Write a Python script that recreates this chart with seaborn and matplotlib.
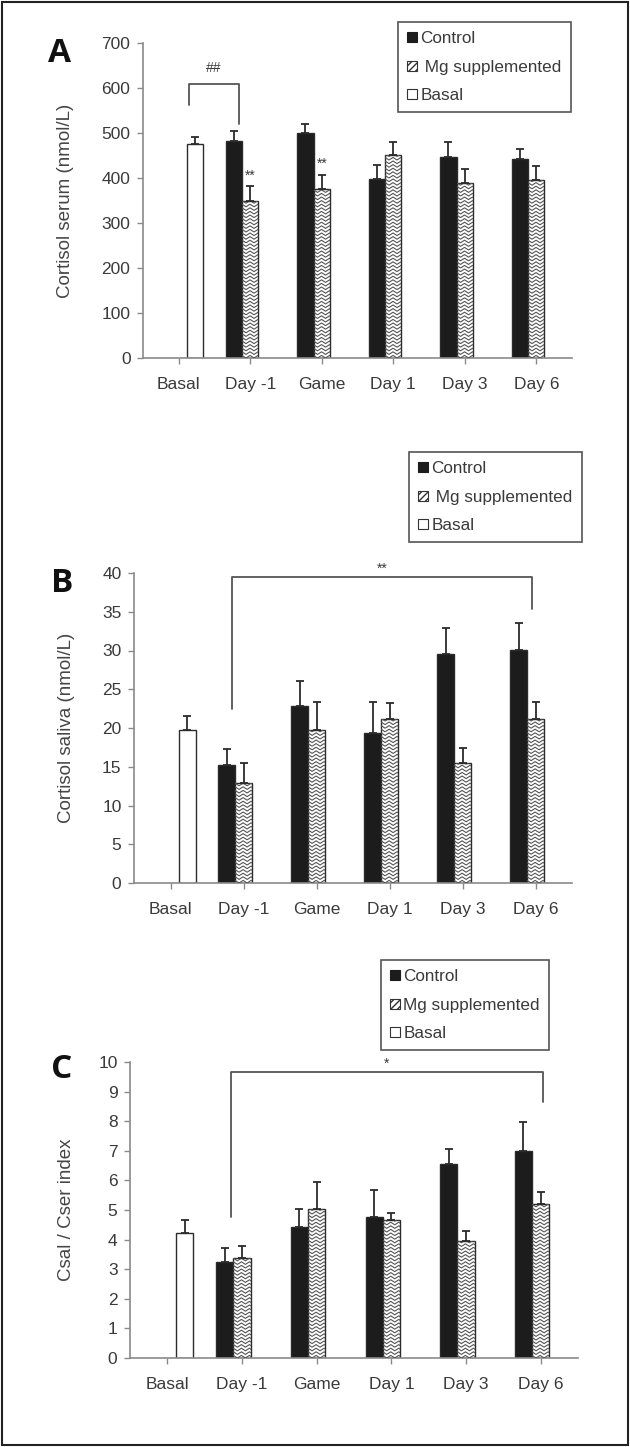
import numpy as np
import pandas as pd
import seaborn as sns
import matplotlib.pyplot as plt
from matplotlib.patches import Patch, Rectangle

nan = np.nan

categories = ['Basal', 'Day -1', 'Game', 'Day 1', 'Day 3', 'Day 6']
groups = ['Control', 'Mg supplemented', 'Basal']

# panel A - cortisol serum (nmol/L)
serum_control = [nan, 482, 500, 398, 446, 443]
serum_control_err = [nan, 22, 20, 30, 33, 21]
serum_mg = [nan, 350, 375, 452, 390, 396]
serum_mg_err = [nan, 32, 32, 27, 29, 30]
serum_basal = [475, nan, nan, nan, nan, nan]
serum_basal_err = [17, nan, nan, nan, nan, nan]

# panel B - cortisol saliva (nmol/L)
saliva_control = [nan, 15.2, 22.8, 19.4, 29.6, 30.1]
saliva_control_err = [nan, 2.1, 3.3, 3.9, 3.3, 3.4]
saliva_mg = [nan, 12.9, 19.8, 21.1, 15.5, 21.2]
saliva_mg_err = [nan, 2.6, 3.5, 2.1, 1.9, 2.2]
saliva_basal = [19.8, nan, nan, nan, nan, nan]
saliva_basal_err = [1.8, nan, nan, nan, nan, nan]

# panel C - Csal / Cser index
index_control = [nan, 3.23, 4.44, 4.78, 6.57, 7.0]
index_control_err = [nan, 0.5, 0.6, 0.9, 0.5, 0.97]
index_mg = [nan, 3.37, 5.05, 4.65, 3.94, 5.21]
index_mg_err = [nan, 0.4, 0.88, 0.26, 0.34, 0.39]
index_basal = [4.21, nan, nan, nan, nan, nan]
index_basal_err = [0.44, nan, nan, nan, nan, nan]

# significance brackets: x ends (category units), y levels, label
bracket_a = dict(x=[0.14, 0.84], y=[563, 608, 521], label='##', label_y=628)
bracket_b = dict(x=[0.84, 4.95], y=[22.4, 39.5, 35.4], label='**', label_y=39.6)
bracket_c = dict(x=[0.85, 5.03], y=[4.76, 9.67, 8.66], label='*', label_y=9.7)
# stars above single bars: (category index, text)
stars_a = [(1, '**'), (2, '**')]

CTRL = '#1c1c1c'
EDGE = '#2b2b2b'
GREY = '#8a8a8a'
TXT = '#3a3a3a'

sns.set_style('white')
plt.rcParams['font.family'] = ['Liberation Sans', 'DejaVu Sans']

fig = plt.figure(figsize=(6.3, 14.47), dpi=100)
H = 1447.0
W = 630.0


def make_long(ctrl, ctrl_err, mg, mg_err, basal, basal_err):
    rows = []
    for g, vals, errs in [('Control', ctrl, ctrl_err), ('Mg supplemented', mg, mg_err), ('Basal', basal, basal_err)]:
        for c, v, e in zip(categories, vals, errs):
            if not np.isnan(v):
                rows.append({'Time': c, 'Group': g, 'Value': v, 'Err': e})
    return pd.DataFrame(rows)


def zigzag(ax, patch, row_px=3.6, half_px=4.0, amp_px=2.6):
    x0 = patch.get_x()
    w = patch.get_width()
    h = patch.get_height()
    p0 = ax.transData.transform((0, 0))
    p1 = ax.transData.transform((1, 1))
    sx = p1[0] - p0[0]
    sy = p1[1] - p0[1]
    n = int(np.ceil(w * sx / half_px)) + 2
    xs = x0 - half_px / sx + np.arange(n + 1) * half_px / sx
    off = np.where(np.arange(n + 1) % 2 == 0, 0, amp_px / sy)
    y = 0.0
    while y < h:
        line, = ax.plot(xs, y + off, color='#555555', lw=0.8, solid_joinstyle='miter', zorder=3)
        line.set_clip_path(patch)
        y += row_px / sy


def draw_panel(box, data, ymax, ystep, ylabel, letter, letter_xy, ylab_x,
               bracket, legend_xy, mg_label, stars=()):
    left, top, right, bottom = box
    ax = fig.add_axes([left / W, 1 - bottom / H, (right - left) / W, (bottom - top) / H])
    df = make_long(*data)
    sns.barplot(data=df, x='Time', y='Value', hue='Group', order=categories, hue_order=groups,
                palette={'Control': CTRL, 'Mg supplemented': 'white', 'Basal': 'white'},
                width=0.69, errorbar=None, edgecolor=EDGE, linewidth=1.0, saturation=1,
                legend=False, ax=ax, zorder=2)
    ax.set_xlim(-0.5, 5.5)
    ax.set_ylim(0, ymax)
    ax.set_yticks(np.arange(0, ymax + ystep / 2, ystep))
    ax.set_xlabel('')
    ax.set_ylabel(ylabel, fontsize=13.5, color='#454545')
    ax.yaxis.set_label_coords(ylab_x, 0.5)
    for s in ['top', 'right']:
        ax.spines[s].set_visible(False)
    for s in ['left', 'bottom']:
        ax.spines[s].set_color(GREY)
        ax.spines[s].set_linewidth(1.2)
    ax.tick_params(axis='y', direction='out', length=4, width=1.0, color=GREY,
                   labelsize=12.5, labelcolor=TXT, pad=5, left=True)
    ax.tick_params(axis='x', direction='out', length=4, width=1.0, color=GREY,
                   labelsize=12.5, labelcolor=TXT, pad=10, bottom=True)

    # error bars and zigzag fill, bar by bar from the seaborn containers
    for g, cont in zip(groups, ax.containers):
        sub = df[df['Group'] == g].copy()
        sub['order'] = sub['Time'].map(categories.index)
        sub = sub.sort_values('order')
        for patch, (_, row) in zip(cont.patches, sub.iterrows()):
            xc = patch.get_x() + patch.get_width() / 2
            ax.errorbar(xc, row['Value'], yerr=[[0], [row['Err']]], fmt='none', ecolor=EDGE,
                        elinewidth=1.3, capsize=3, capthick=1.3, zorder=4)
            if g == 'Mg supplemented':
                zigzag(ax, patch)
            if g == 'Mg supplemented' and row['order'] in [s[0] for s in stars]:
                txt = dict(stars)[row['order']]
                ax.text(xc, row['Value'] + row['Err'] + ymax * 0.012, txt, ha='center', va='bottom',
                        fontsize=10, color=TXT)

    bx, by = bracket['x'], bracket['y']
    ax.plot([bx[0], bx[0], bx[1], bx[1]], [by[0], by[1], by[1], by[2]], color='#555555',
            lw=1.3, clip_on=False, zorder=5)
    ax.text((bx[0] + bx[1]) / 2, bracket['label_y'], bracket['label'], ha='center', va='bottom',
            fontsize=10, color=TXT, clip_on=False)

    fig.text(letter_xy[0] / W, 1 - letter_xy[1] / H, letter, fontsize=24, fontweight='bold',
             family=['Open Sans', 'DejaVu Sans'], ha='center', va='center', color='#111111')

    handles = [Patch(fc=CTRL, ec=CTRL, lw=0.8),
               Patch(fc='white', ec='#333333', hatch='/////', lw=0.8),
               Patch(fc='white', ec='#333333', lw=0.8)]
    leg = fig.legend(handles, ['Control', mg_label, 'Basal'], loc='upper left',
                     bbox_to_anchor=(legend_xy[0] / W, 1 - legend_xy[1] / H),
                     bbox_transform=fig.transFigure, fontsize=12.3, frameon=True, fancybox=False,
                     framealpha=1, edgecolor='#555555', handlelength=0.55, handleheight=0.55,
                     handletextpad=0.2, labelspacing=0.78, borderpad=0.55, borderaxespad=0)
    leg.get_frame().set_linewidth(1.2)
    for t in leg.get_texts():
        t.set_color(TXT)
    return ax


draw_panel((143, 43, 572, 358),
           (serum_control, serum_control_err, serum_mg, serum_mg_err, serum_basal, serum_basal_err),
           700, 100, 'Cortisol serum (nmol/L)', 'A', (60, 53), -0.16,
           bracket_a, (398, 22), ' Mg supplemented', stars=stars_a)

draw_panel((134, 573, 572, 883),
           (saliva_control, saliva_control_err, saliva_mg, saliva_mg_err, saliva_basal, saliva_basal_err),
           40, 5, 'Cortisol saliva (nmol/L)', 'B', (62, 583), -0.135,
           bracket_b, (409, 452), ' Mg supplemented')

draw_panel((130, 1062, 578, 1358),
           (index_control, index_control_err, index_mg, index_mg_err, index_basal, index_basal_err),
           10, 1, 'Csal / Cser index', 'C', (62, 1070), -0.123,
           bracket_c, (381, 960), 'Mg supplemented')

fig.patches.append(Rectangle((0.003, 0.0015), 0.994, 0.997, transform=fig.transFigure,
                             fill=False, lw=1.5, ec='#222222'))

fig.savefig('out.png', dpi=100)
